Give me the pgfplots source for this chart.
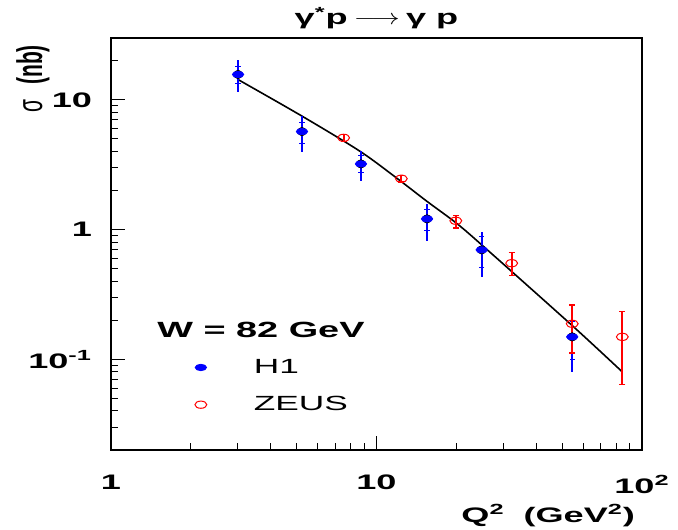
\documentclass[border=0pt]{standalone}
\usepackage{pgfplots}
\pgfplotsset{compat=1.18}
\usepackage{pgfplotstable}
\usepackage{fontspec}
\setmainfont{Liberation Sans}[FakeStretch=1.72]
\newfontfamily\plainfont{Liberation Sans}
\definecolor{rootblue}{RGB}{0,0,255}
\definecolor{rootred}{RGB}{255,0,0}
\pgfplotsset{dotlegend/.style={legend image code/.code={\draw[##1] plot coordinates {(0pt,0pt)};}}}

% H1: Q2, sigma, total error +/-, stat error +/-
\pgfplotstableread{
q     s      ep     em     sp     sm
3.01  15.7   4.5    4.1    2.5    2.4
5.24  5.70   1.80   1.75   1.03   1.12
8.74  3.21   0.81   0.83   0.53   0.47
15.5  1.21   0.36   0.40   0.21   0.23
24.9  0.698  0.252  0.264  0.187  0.189
54.6  0.149  0.066  0.069  0.046  0.049
}\hone

% ZEUS: Q2, sigma, error +/-
\pgfplotstableread{
q     s      ep     em
7.52  5.10   0.30   0.30
12.4  2.47   0.15   0.14
19.9  1.17   0.11   0.14
32.3  0.551  0.114  0.109
54.6  0.188  0.074  0.076
84.3  0.149  0.086  0.085
}\zeus

% model curve
\pgfplotstableread{
q     s
3.0   14.4
5.24  7.5
8.66  4.02
11.9  2.5
15.5  1.65
19.9  1.13
24.9  0.763
54.6  0.182
84.3  0.080
}\curve

\begin{document}
\begin{tikzpicture}
\useasboundingbox (-55.5pt,-39.5pt) rectangle (283.5pt,225pt);
\begin{axis}[
    at={(0,0)}, anchor=south west,
    scale only axis, width=265.5pt, height=206pt,
    xmode=log, ymode=log,
    xmin=1, xmax=100, ymin=0.02, ymax=30,
    axis line style={line width=0.6pt},
    xtick={1,10,100}, xticklabels={1,10,10\textsuperscript{2}},
    ytick={0.1,1,10}, yticklabels={10\textsuperscript{-1},1,10},
    minor xtick={2,3,4,5,6,7,8,9,20,30,40,50,60,70,80,90},
    minor ytick={0.02,0.03,0.04,0.05,0.06,0.07,0.08,0.09,0.2,0.3,0.4,0.5,0.6,0.7,0.8,0.9,2,3,4,5,6,7,8,9,20,30},
    xtick pos=bottom, ytick pos=left, tick align=inside,
    major tick length=7pt, minor tick length=3.5pt,
    every tick/.style={black, line width=0.5pt},
    ticklabel style={font=\bfseries\fontsize{10.5}{12}\selectfont},
    xticklabel style={yshift=-9pt},
    yticklabel style={xshift=-6pt},
    every axis title shift=0pt,
    title={\bfseries γ\textsuperscript{*}p\hspace{0.3em}\scalebox{1.3}[1]{$\longrightarrow$}\hspace{0.3em}γ p},
    title style={at={(axis description cs:0.5,1)}, anchor=base, yshift=6.5pt, font=\fontsize{10.5}{12}\selectfont},
    xlabel={\bfseries Q\textsuperscript{2}\hspace{0.9em}(GeV\textsuperscript{2})},
    xlabel style={at={(axis description cs:1,0)}, anchor=base east, yshift=-36pt, font=\fontsize{10.5}{12}\selectfont},
    ylabel={\scalebox{1}[1.7]{\plainfont σ\hspace{0.7em}\textbf{(nb)}}},
    every axis y label/.style={at={(axis description cs:0,1)}, xshift=-39pt, rotate=90, anchor=east, font=\fontsize{10.5}{12}\selectfont},
    legend style={draw=none, fill=none, at={(axis description cs:0.146,0.155)}, anchor=west,
        font=\fontsize{10.25}{12}\selectfont, row sep=6pt, column sep=21.5pt},
    legend cell align=left,
]
% model curve
\addplot[black, line width=0.8pt, smooth, forget plot] table[x=q, y=s] {\curve};

% H1 total errors
\addplot[only marks, mark=none, forget plot,
    error bars/.cd, y dir=both, y explicit, error mark=none,
    error bar style={draw=rootblue, line width=0.9pt}]
    table[x=q, y=s, y error plus=ep, y error minus=em] {\hone};
% H1 statistical errors
\addplot[only marks, mark=none, forget plot,
    error bars/.cd, y dir=both, y explicit, error mark=-,
    error mark options={rotate=90, draw=rootblue, mark size=1.3pt, line width=0.6pt},
    error bar style={draw=rootblue, line width=0.9pt}]
    table[x=q, y=s, y error plus=sp, y error minus=sm] {\hone};
% H1 points
\addplot[only marks, mark=*, mark size=1.6pt,
    mark options={xscale=1.78, draw=rootblue, fill=rootblue}, dotlegend]
    table[x=q, y=s] {\hone};
\addlegendentry{H1}

% ZEUS
\addplot[only marks, mark=o, mark size=1.8pt,
    mark options={xscale=1.65, draw=rootred, line width=0.5pt}, dotlegend,
    error bars/.cd, y dir=both, y explicit, error mark=-,
    error mark options={rotate=90, draw=rootred, mark size=1.5pt, line width=0.6pt},
    error bar style={draw=rootred, line width=0.9pt}]
    table[x=q, y=s, y error plus=ep, y error minus=em] {\zeus};
\addlegendentry{ZEUS}

\node[anchor=base west, inner sep=0pt, font=\bfseries\fontsize{11}{13}\selectfont]
    at (axis description cs:0.0866,0.2735) {W = 82 GeV};
\end{axis}
\end{tikzpicture}
\end{document}
